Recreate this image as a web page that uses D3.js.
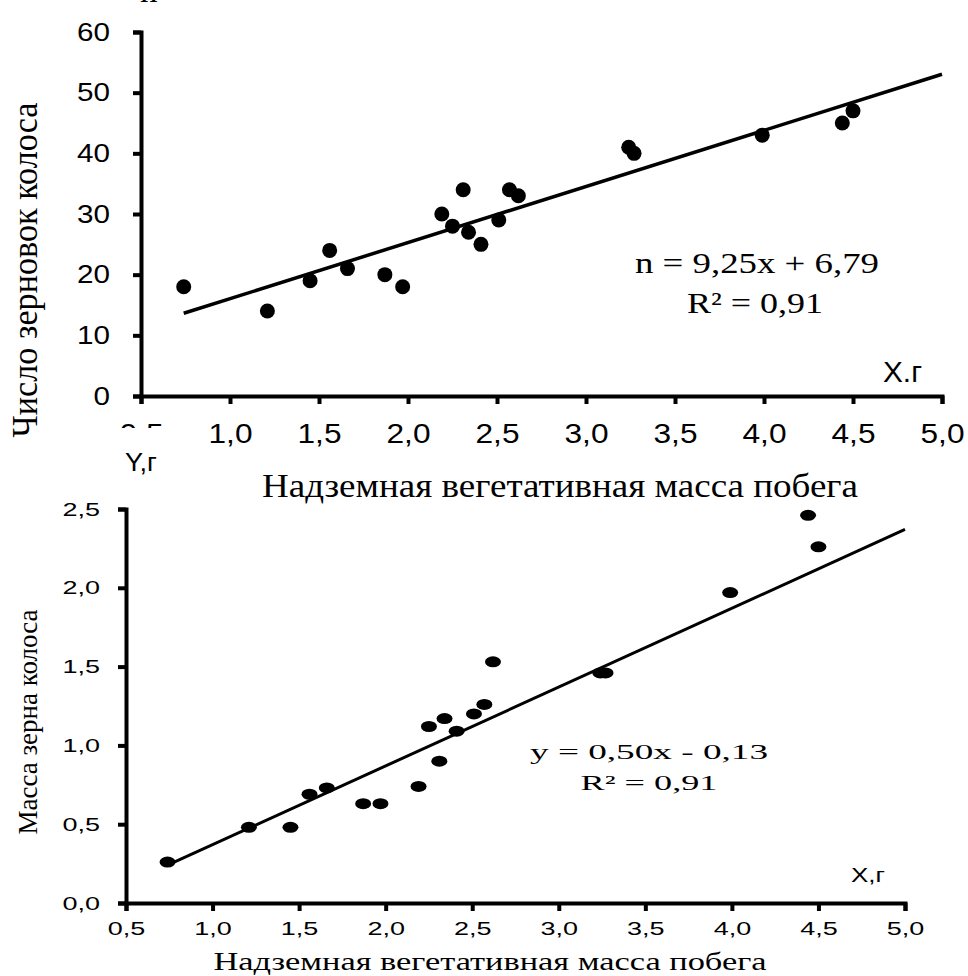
<!DOCTYPE html>
<html>
<head>
<meta charset="utf-8">
<script src="https://cdn.jsdelivr.net/npm/d3@7"></script>
<style>
  body { margin: 0; background: #fff; }
  svg { display: block; }
</style>
</head>
<body>
<svg id="chart" width="968" height="976"></svg>
<script>
// Shoot above-ground vegetative mass, g (shared by both panels)
const shootMass  = [0.74, 1.21, 1.45, 1.56, 1.66, 1.87, 1.97, 2.19, 2.25, 2.31,
                    2.34, 2.41, 2.51, 2.57, 2.62, 3.24, 3.27, 3.99, 4.44, 4.50];
// Number of grains per ear
const grainCount = [18, 14, 19, 24, 21, 20, 18, 30, 28, 34,
                    27, 25, 29, 34, 33, 41, 40, 43, 45, 47];
// Grain mass per ear, g
const grainMass  = [0.26, 0.48, 0.48, 0.69, 0.73, 0.63, 0.63, 0.74, 1.12, 0.90,
                    1.17, 1.09, 1.20, 1.26, 1.53, 1.46, 1.46, 1.97, 2.46, 2.26];

const xTicks     = [0.5, 1.0, 1.5, 2.0, 2.5, 3.0, 3.5, 4.0, 4.5, 5.0];
const countTicks = [0, 10, 20, 30, 40, 50, 60];
const massTicks  = [0, 0.5, 1.0, 1.5, 2.0, 2.5];

const countFit = { slope: 9.25, intercept: 6.79 };
const massFit  = { slope: 0.50, intercept: -0.13 };

const countEq  = ["n = 9,25x + 6,79", "R² = 0,91"];
const massEq   = ["y = 0,50x - 0,13", "R² = 0,91"];
const xTitle   = "Надземная вегетативная масса побега";
const countTitle = "Число зерновок колоса";
const massTitle  = "Масса зерна колоса";

const SANS  = "'Liberation Sans', Arial, sans-serif";
const SERIF = "'Liberation Serif', 'Times New Roman', serif";

const comma1 = v => d3.format(".1f")(v).replace(".", ",");
const svg = d3.select("#chart");

// widen glyphs horizontally by factor k
function widen(sel, k) {
  sel.each(function () {
    const w = this.getComputedTextLength();
    d3.select(this).attr("textLength", w * k).attr("lengthAdjust", "spacingAndGlyphs");
  });
}

function styleAxis(g, width) {
  g.select(".domain").attr("stroke", "#000").attr("stroke-width", width);
  g.selectAll(".tick line").attr("stroke", "#000").attr("stroke-width", width);
}

function label(g, txt, x, y, opts) {
  const t = g.append("text")
    .attr("x", x).attr("y", y)
    .attr("font-family", opts.family)
    .attr("font-size", opts.size)
    .attr("text-anchor", opts.anchor || "middle")
    .attr("fill", "#000")
    .text(txt);
  if (opts.len) t.attr("textLength", opts.len).attr("lengthAdjust", "spacingAndGlyphs");
  if (opts.rotate) t.attr("transform", `rotate(-90,${x},${y})`);
  return t;
}

function regression(fit, x0, x1) {
  return [x0, x1].map(x => [x, fit.slope * x + fit.intercept]);
}

// ---------- Upper panel: grains per ear ----------
{
  const g = svg.append("g");
  const x = d3.scaleLinear().domain([0.5, 5]).range([141, 942]);
  const y = d3.scaleLinear().domain([0, 60]).range([396, 32]);

  // axis name cut by the top edge
  label(g, "n", 140, 2, { family: SERIF, size: 35, anchor: "start" });

  const gx = g.append("g").attr("transform", `translate(0,${y(0)})`)
    .call(d3.axisBottom(x).tickValues(xTicks).tickSize(8).tickSizeOuter(8).tickFormat(comma1));
  styleAxis(gx, 4);
  gx.selectAll(".tick text").attr("y", 47).attr("dy", null)
    .attr("font-family", SANS).attr("font-size", 28).attr("fill", "#000")
    .call(widen, 1.13);

  const gy = g.append("g").attr("transform", `translate(${x(0.5)},0)`)
    .call(d3.axisLeft(y).tickValues(countTicks).tickSize(8).tickSizeOuter(8).tickPadding(23));
  styleAxis(gy, 4);
  gy.selectAll(".tick text")
    .attr("font-family", SANS).attr("font-size", 26).attr("fill", "#000")
    .call(widen, 1.14);

  g.append("path")
    .datum(regression(countFit, d3.min(shootMass), 5))
    .attr("d", d3.line().x(d => x(d[0])).y(d => y(d[1])))
    .attr("fill", "none").attr("stroke", "#000").attr("stroke-width", 3.5);

  g.selectAll("circle.pt").data(shootMass).join("circle")
    .attr("class", "pt")
    .attr("cx", d => x(d)).attr("cy", (d, i) => y(grainCount[i]))
    .attr("r", 7.5).attr("fill", "#000");

  label(g, countEq[0], 757, 273, { family: SERIF, size: 30, len: 244 });
  label(g, countEq[1], 755, 313, { family: SERIF, size: 30, len: 136 });
  label(g, "X.г", 883, 382, { family: SANS, size: 29, anchor: "start", len: 39 });
  label(g, countTitle, 37, 270, { family: SERIF, size: 35, len: 335, rotate: true });
  label(g, xTitle, 560, 497, { family: SERIF, size: 33, len: 596 });
}

// ---------- Lower panel: grain mass per ear ----------
{
  const g = svg.append("g");
  const x = d3.scaleLinear().domain([0.5, 5]).range([126, 905]);
  const y = d3.scaleLinear().domain([0, 2.5]).range([903, 509]);

  // "Y,г" caption sits on its own white box
  g.append("rect").attr("x", 112).attr("y", 428).attr("width", 60).attr("height", 50).attr("fill", "#fff");
  label(g, "Y,г", 141, 471, { family: SANS, size: 25, len: 32 });

  const gx = g.append("g").attr("transform", `translate(0,${y(0)})`)
    .call(d3.axisBottom(x).tickValues(xTicks).tickSize(8).tickSizeOuter(8).tickFormat(comma1));
  styleAxis(gx, 4);
  gx.selectAll(".tick text").attr("y", 32).attr("dy", null)
    .attr("font-family", SANS).attr("font-size", 19).attr("fill", "#000")
    .call(widen, 1.42);

  const gy = g.append("g").attr("transform", `translate(${x(0.5)},0)`)
    .call(d3.axisLeft(y).tickValues(massTicks).tickSize(8).tickSizeOuter(8).tickPadding(18).tickFormat(comma1));
  styleAxis(gy, 4);
  gy.selectAll(".tick text")
    .attr("font-family", SANS).attr("font-size", 19).attr("fill", "#000")
    .call(widen, 1.42);

  g.append("path")
    .datum(regression(massFit, d3.min(shootMass), 5))
    .attr("d", d3.line().x(d => x(d[0])).y(d => y(d[1])))
    .attr("fill", "none").attr("stroke", "#000").attr("stroke-width", 3);

  g.selectAll("ellipse.pt").data(shootMass).join("ellipse")
    .attr("class", "pt")
    .attr("cx", d => x(d)).attr("cy", (d, i) => y(grainMass[i]))
    .attr("rx", 8).attr("ry", 5.5).attr("fill", "#000");

  label(g, massEq[0], 649, 759, { family: SERIF, size: 22, len: 238 });
  label(g, massEq[1], 649, 790, { family: SERIF, size: 22, len: 137 });
  label(g, "X,г", 851, 882, { family: SANS, size: 21, anchor: "start", len: 34 });
  label(g, massTitle, 37, 722, { family: SERIF, size: 27, len: 225, rotate: true });
  label(g, xTitle, 490, 970, { family: SERIF, size: 26, len: 553 });
}
</script>
</body>
</html>
